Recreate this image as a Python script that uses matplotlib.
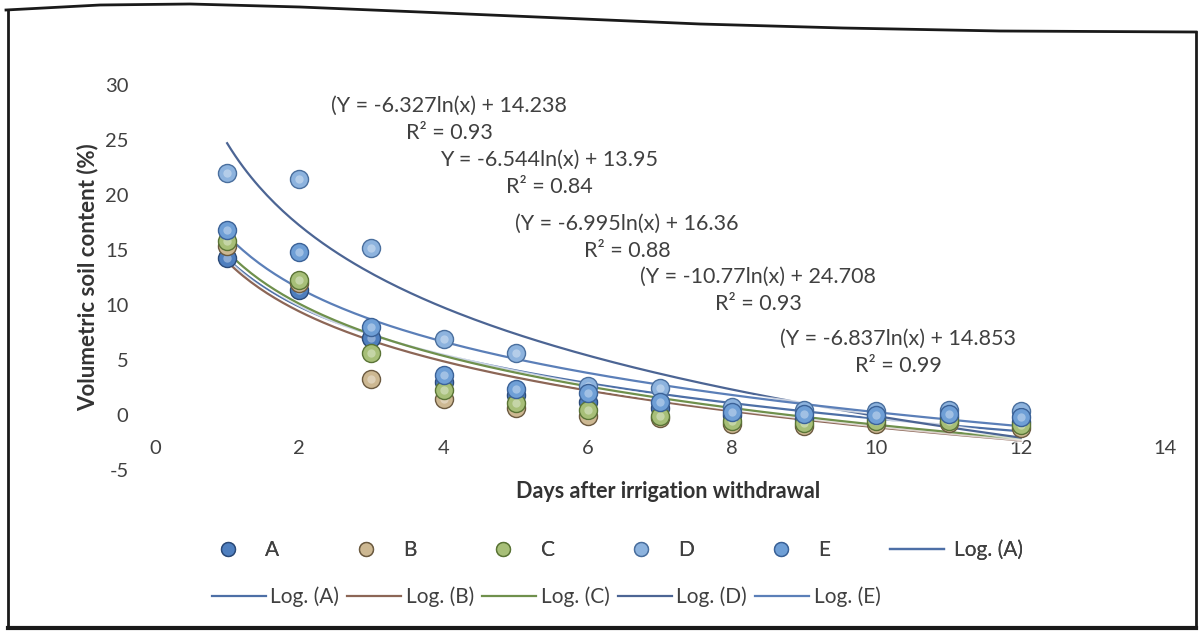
import numpy as np
import matplotlib
matplotlib.use("Agg")
import matplotlib.pyplot as plt
from matplotlib.lines import Line2D

plt.rcParams['font.family'] = ['Lato', 'DejaVu Sans']
plt.rcParams['axes.unicode_minus'] = False

# days after irrigation withdrawal
days = [1, 2, 3, 4, 5, 6, 7, 8, 9, 10, 11, 12]

# volumetric soil content (%)
A = [14.3, 11.4, 7.0, 3.0, 1.8, 1.2, 0.6, 0.0, -0.4, -0.3, -0.2, -0.6]
B = [15.4, 12.0, 3.3, 1.5, 0.6, -0.1, -0.3, -0.8, -1.0, -0.8, -0.7, -1.2]
C = [15.8, 12.3, 5.6, 2.3, 1.1, 0.5, -0.1, -0.5, -0.7, -0.5, -0.5, -0.9]
D = [22.0, 21.5, 15.2, 6.9, 5.6, 2.6, 2.5, 0.7, 0.5, 0.4, 0.5, 0.4]
E = [16.8, 14.8, 8.0, 3.6, 2.4, 2.0, 1.2, 0.3, 0.1, 0.0, 0.1, -0.2]

# log trendline coefficients (slope, intercept, R2) as printed on the chart
fit_A = (-6.327, 14.238, 0.93)
fit_B = (-6.544, 13.95, 0.84)
fit_C = (-6.837, 14.853, 0.99)
fit_D = (-10.77, 24.708, 0.93)
fit_E = (-6.995, 16.36, 0.88)

series = [
    ("A", A, fit_A, "#4f7fbf", "#2b4a78", "#4d6fa6"),
    ("B", B, fit_B, "#cdb892", "#6b5a40", "#8c6656"),
    ("C", C, fit_C, "#a7bf78", "#5a7436", "#6f904c"),
    ("D", D, fit_D, "#8db3de", "#4a6f9e", "#4c6594"),
    ("E", E, fit_E, "#6f9fd6", "#3b6298", "#5b7fb8"),
]

# equation labels: (fit, bracket, centre x px, centre y px)
eq_labels = [
    (fit_A, "(", 449, 119),
    (fit_B, "", 549, 173),
    (fit_E, "(", 627, 237),
    (fit_D, "(", 758, 290),
    (fit_C, "(", 898, 352),
]

W, H = 1202, 633
fig = plt.figure(figsize=(W / 100, H / 100), dpi=100)
fig.patch.set_facecolor("white")
ax = fig.add_axes([155 / W, 1 - 470 / H, 1010 / W, 385 / H])
ax.set_facecolor("none")

xs = np.linspace(1, 12, 200)
line_handles = []
for name, vals, fit, face, edge, lcol in series:
    slope, icpt, _ = fit
    ax.plot(xs, slope * np.log(xs) + icpt, color="white", lw=4, alpha=0.7, zorder=2)
    ln, = ax.plot(xs, slope * np.log(xs) + icpt, color=lcol, lw=1.6, zorder=2)
    line_handles.append((name, ln))

marker_handles = []
for name, vals, fit, face, edge, lcol in series:
    ax.plot(days, vals, "o", ms=13, mfc=face, mec=edge, mew=1.0, zorder=3)
    ax.plot(days, vals, "o", ms=6, mfc="white", mec="none", alpha=0.35, zorder=3)
    marker_handles.append(Line2D([], [], ls="none", marker="o", ms=10, mfc=face, mec=edge))

ax.set_xlim(0, 14)
ax.set_ylim(-5, 30)
ax.set_xticks(range(0, 15, 2))
ax.set_yticks(range(-5, 31, 5))
for s in ["top", "right", "left"]:
    ax.spines[s].set_visible(False)
ax.spines["bottom"].set_position(("data", 0))
ax.spines["bottom"].set_visible(False)
ax.tick_params(axis="x", length=0, pad=18, labelsize=14.5, labelcolor="#404040")
ax.tick_params(axis="y", length=0, pad=19, labelsize=14.5, labelcolor="#404040")

fig.text(668 / W, 1 - 492 / H, "Days after irrigation withdrawal", ha="center", va="center",
         fontsize=15.5, fontweight="bold", color="#333333")
fig.text(88 / W, 1 - 277 / H, "Volumetric soil content (%)", ha="center", va="center",
         rotation=90, fontsize=16, fontweight="bold", color="#333333")

for (slope, icpt, r2), br, cx, cy in eq_labels:
    txt = f"{br}Y = {slope}ln(x) + {icpt}\nR² = {r2}"
    fig.text(cx / W, 1 - cy / H, txt, ha="center", va="center", fontsize=15.5,
             color="#404040", linespacing=1.45)

# legend, first row: markers + Log. (A); second row: all trendlines
row1 = marker_handles + [line_handles[0][1]]
lab1 = [s[0] for s in series] + ["Log. (A)"]
lg1 = fig.legend(row1, lab1, loc="center", bbox_to_anchor=(612 / W, 1 - 550 / H), ncol=6,
                 frameon=False, fontsize=15, handlelength=2.6, handletextpad=0.5,
                 columnspacing=2.85, labelcolor="#404040")
lab2 = ["Log. (%s)" % n for n, _ in line_handles]
fig.legend([h for _, h in line_handles], lab2, loc="center", bbox_to_anchor=(546 / W, 1 - 597 / H),
           ncol=5, frameon=False, fontsize=15, handlelength=2.6, handletextpad=0.2,
           columnspacing=0.4, labelcolor="#404040")
fig.add_artist(lg1)

# scanned page frame
fx = [6, 100, 190, 300, 420, 537, 700, 843, 1000, 1196]
fy = [10, 5, 4, 7, 12, 17, 24, 28, 31, 32]
fig.add_artist(Line2D(np.array(fx) / W, 1 - np.array(fy) / H, color="#1a1a1a", lw=2))
fig.add_artist(Line2D([8 / W, 8 / W], [1 - 10 / H, 1 - 628 / H], color="#1a1a1a", lw=2))
fig.add_artist(Line2D([1196 / W, 1196 / W], [1 - 32 / H, 1 - 628 / H], color="#1a1a1a", lw=2))
fig.add_artist(Line2D([8 / W, 1196 / W], [1 - 628 / H, 1 - 628 / H], color="#1a1a1a", lw=3))

fig.savefig("out.png", dpi=100)
